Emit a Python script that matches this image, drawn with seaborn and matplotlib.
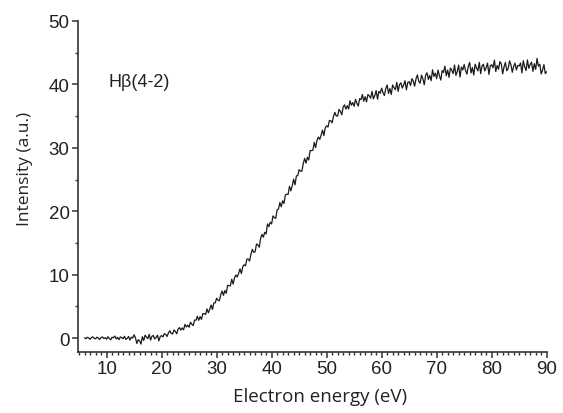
import numpy as np
import pandas as pd
import matplotlib
matplotlib.use("Agg")
import matplotlib.pyplot as plt
from matplotlib.ticker import MultipleLocator
import seaborn as sns

# Electron energy grid (eV), 0.25 eV steps from 6 to 90
energy_start = 6.0
energy_end = 90.0
n_points = 337

intensity_06_10 = [0.05, -0.10, 0.12, 0.02, -0.18, 0.08, 0.20, -0.05, -0.12, 0.15, 0.00, -0.22, 0.10, 0.18, -0.08, 0.05]
intensity_10_15 = [-0.18, 0.21, -0.07, -0.28, 0.14, 0.04, 0.32, -0.14, 0.11, -0.25, 0.18, 0.07, -0.10, 0.28, -0.21, -0.03, 0.25, -0.32, 0.14, 0.00]
intensity_15_20 = [0.52, 0.04, -0.86, -0.26, -0.45, -0.95, 0.22, -0.38, 0.46, 0.16, -0.08, 0.58, -0.32, 0.28, 0.40, -0.14, 0.10, 0.46, -0.44, 0.22]
intensity_20_25 = [0.40, 0.18, 0.70, 0.57, 0.25, 0.83, 1.15, 0.72, 0.65, 1.28, 1.05, 0.67, 1.40, 1.65, 1.25, 1.60, 1.30, 2.15, 1.75, 2.05]
intensity_25_30 = [1.70, 2.51, 2.18, 1.97, 2.84, 2.81, 3.44, 2.81, 3.38, 2.96, 3.85, 3.84, 3.72, 4.60, 3.99, 4.52, 5.22, 4.51, 5.54, 5.55]
intensity_30_35 = [6.29, 5.98, 5.88, 6.83, 7.43, 6.73, 7.49, 7.06, 8.32, 8.25, 8.24, 9.28, 8.51, 9.51, 9.95, 9.62, 10.20, 10.92, 10.17, 11.24]
intensity_35_40 = [11.56, 11.40, 12.45, 12.46, 12.14, 13.26, 13.99, 13.52, 13.60, 14.83, 14.70, 14.33, 15.72, 16.34, 15.91, 16.68, 16.42, 18.00, 17.57, 18.26]
intensity_40_45 = [18.00, 19.26, 18.99, 18.88, 20.22, 20.36, 21.37, 20.70, 21.64, 21.22, 22.55, 22.68, 22.66, 23.94, 23.22, 24.02, 25.06, 24.16, 25.57, 25.62]
intensity_45_50 = [26.56, 26.32, 26.32, 27.52, 28.32, 27.58, 28.51, 28.08, 29.58, 29.56, 29.61, 30.86, 30.04, 31.19, 31.70, 31.33, 32.00, 32.80, 31.93, 33.14]
intensity_50_55 = [33.46, 33.28, 34.30, 34.28, 33.94, 34.96, 35.59, 35.02, 35.00, 36.06, 35.75, 35.20, 36.42, 36.78, 36.11, 36.64, 36.12, 37.42, 36.72, 37.14]
intensity_55_60 = [36.55, 37.64, 37.02, 36.58, 37.76, 37.59, 38.41, 37.34, 38.07, 37.25, 38.40, 38.20, 37.83, 38.90, 37.71, 38.23, 39.03, 37.67, 38.91, 38.62]
intensity_60_65 = [39.40, 38.68, 38.25, 39.32, 39.90, 38.58, 39.35, 38.42, 39.90, 39.48, 39.15, 40.32, 38.90, 39.98, 40.25, 39.42, 39.90, 40.58, 39.15, 40.32]
intensity_65_70 = [40.42, 39.84, 40.90, 40.53, 39.73, 40.89, 41.50, 40.47, 40.20, 41.47, 40.88, 39.95, 41.44, 41.83, 40.79, 41.41, 40.59, 42.30, 41.27, 41.77]
intensity_70_75 = [40.90, 42.27, 41.36, 40.69, 42.18, 41.87, 42.88, 41.37, 42.26, 41.10, 42.58, 42.26, 41.70, 43.06, 41.42, 42.06, 43.04, 41.15, 42.74, 42.28]
intensity_75_80 = [43.14, 42.20, 41.62, 42.84, 43.46, 41.80, 42.66, 41.48, 43.18, 42.60, 42.14, 43.48, 41.70, 42.92, 43.18, 42.12, 42.62, 43.36, 41.58, 42.92]
intensity_80_85 = [43.11, 42.63, 43.83, 42.03, 42.99, 42.39, 43.59, 43.23, 41.67, 42.75, 43.47, 42.15, 42.51, 43.71, 43.11, 41.91, 42.87, 43.35, 42.27, 42.99]
intensity_85_90 = [42.90, 43.38, 41.82, 43.74, 42.78, 42.18, 43.86, 42.54, 43.14, 43.50, 42.06, 43.26, 42.37, 44.10, 42.87, 43.18, 41.64, 42.26, 43.12, 41.70]
intensity_90 = [42.00]

intensity = (intensity_06_10 + intensity_10_15 + intensity_15_20 + intensity_20_25 +
             intensity_25_30 + intensity_30_35 + intensity_35_40 + intensity_40_45 +
             intensity_45_50 + intensity_50_55 + intensity_55_60 + intensity_60_65 +
             intensity_65_70 + intensity_70_75 + intensity_75_80 + intensity_80_85 +
             intensity_85_90 + intensity_90)
energy = np.linspace(energy_start, energy_end, n_points)

x_ticks = [10, 20, 30, 40, 50, 60, 70, 80, 90]
y_ticks = [0, 10, 20, 30, 40, 50]
annotation = "H\u03b2(4-2)"
x_label = "Electron energy (eV)"
y_label = "Intensity (a.u.)"

df = pd.DataFrame({"energy": energy, "intensity": intensity})

sns.set_style("ticks")
plt.rcParams["font.family"] = ["Liberation Sans", "DejaVu Sans"]

fig = plt.figure(figsize=(5.63, 4.14), dpi=100)
ax = fig.add_axes([0.1385, 0.1473, 0.971 - 0.1385, 0.9469 - 0.1473])

sns.lineplot(data=df, x="energy", y="intensity", ax=ax, color="#1a1a1a", linewidth=0.9)

ax.set_xlim(4.8, 90)
ax.set_ylim(-2.2, 50)
ax.set_xticks(x_ticks)
ax.set_yticks(y_ticks)
ax.xaxis.set_minor_locator(MultipleLocator(1))
ax.yaxis.set_minor_locator(MultipleLocator(5))
ax.tick_params(axis="both", which="major", direction="out", length=4, width=1.1,
               labelsize=13.5, colors="#333333", labelcolor="#222222", pad=2)
ax.tick_params(axis="both", which="minor", direction="out", length=2.5, width=1.0, colors="#333333")

for side in ["top", "right"]:
    ax.spines[side].set_visible(False)
for side in ["left", "bottom"]:
    ax.spines[side].set_linewidth(1.2)
    ax.spines[side].set_color("#333333")

ax.set_xlabel(x_label, family=["Open Sans", "DejaVu Sans"], fontsize=13.5, color="#222222", labelpad=7)
ax.set_ylabel(y_label, family=["Open Sans", "DejaVu Sans"], fontsize=12.5, color="#222222")
ax.yaxis.set_label_coords(-0.097, 0.555)
ax.xaxis.set_label_coords(0.517, -0.105)

ax.text(10.4, 40.4, annotation, fontsize=13, va="center", ha="left", color="#222222")

fig.savefig("out.png", dpi=100)
